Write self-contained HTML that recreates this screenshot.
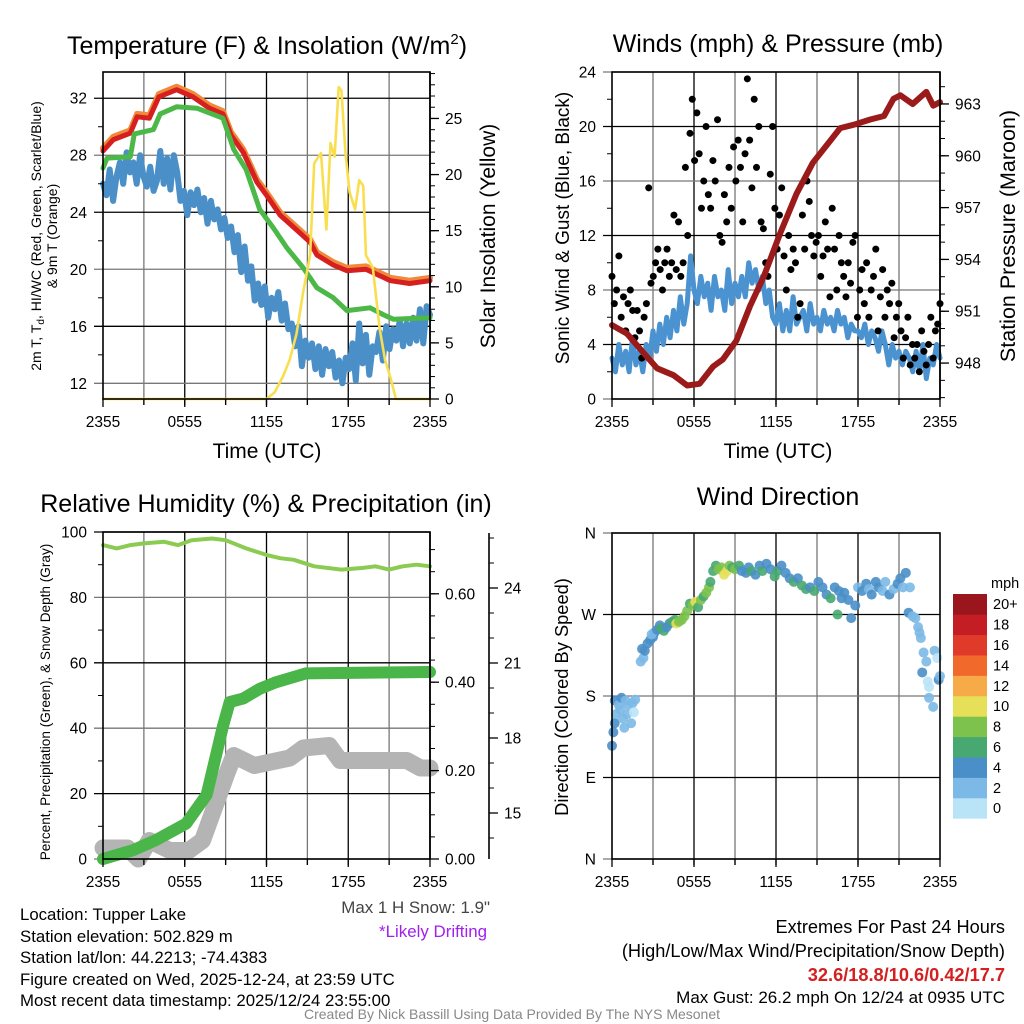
<!DOCTYPE html>
<html><head><meta charset="utf-8"><title>Tupper Lake Mesonet</title>
<style>
html,body{margin:0;padding:0;background:#fff;}
svg{display:block;font-family:"Liberation Sans",Arial,sans-serif;}
</style></head>
<body>
<svg id="fig" width="1024" height="1024" viewBox="0 0 1024 1024" xmlns="http://www.w3.org/2000/svg">
<rect x="0" y="0" width="1024" height="1024" fill="#fff"/>
<g id="layer-grid"></g>
<g id="layer-data"></g>
<g id="layer-axes"></g>

<text x="267" y="54" font-size="25" text-anchor="middle">Temperature (F) &amp; Insolation (W/m<tspan font-size="15" dy="-10">2</tspan><tspan dy="10">)</tspan></text>
<text x="778" y="52" font-size="25" text-anchor="middle">Winds (mph) &amp; Pressure (mb)</text>
<text x="266" y="512" font-size="25" text-anchor="middle">Relative Humidity (%) &amp; Precipitation (in)</text>
<text x="778" y="505" font-size="25" text-anchor="middle">Wind Direction</text>

<text x="267" y="458" font-size="21" text-anchor="middle">Time (UTC)</text>
<text x="778" y="458" font-size="21" text-anchor="middle">Time (UTC)</text>

<text transform="translate(41,236) rotate(-90)" font-size="14" text-anchor="middle">2m T, T<tspan font-size="10" dy="3">d</tspan><tspan dy="-3">, HI/WC (Red, Green, Scarlet/Blue)</tspan></text>
<text transform="translate(57,236) rotate(-90)" font-size="14" text-anchor="middle">&amp; 9m T (Orange)</text>
<text transform="translate(495,236) rotate(-90)" font-size="21" text-anchor="middle">Solar Insolation (Yellow)</text>
<text transform="translate(569,228) rotate(-90)" font-size="19" text-anchor="middle">Sonic Wind &amp; Gust (Blue, Black)</text>
<text transform="translate(1015,236) rotate(-90)" font-size="21.5" text-anchor="middle">Station Pressure (Maroon)</text>
<text transform="translate(50,702) rotate(-90)" font-size="13.6" text-anchor="middle">Percent, Precipitation (Green), &amp; Snow Depth (Gray)</text>
<text transform="translate(568,697) rotate(-90)" font-size="18.3" text-anchor="middle">Direction (Colored By Speed)</text>

<text x="490" y="913" font-size="16.9" fill="#444" text-anchor="end">Max 1 H Snow: 1.9"</text>
<text x="487" y="937" font-size="16.9" fill="#a020f0" text-anchor="end">*Likely Drifting</text>

<g font-size="16.8">
<text x="20" y="920">Location: Tupper Lake</text>
<text x="20" y="942">Station elevation: 502.829 m</text>
<text x="20" y="963">Station lat/lon: 44.2213; -74.4383</text>
<text x="20" y="985">Figure created on Wed, 2025-12-24, at 23:59 UTC</text>
<text x="20" y="1006">Most recent data timestamp: 2025/12/24 23:55:00</text>
</g>
<g font-size="18.2" text-anchor="end">
<text x="1005" y="933">Extremes For Past 24 Hours</text>
<text x="1005" y="957">(High/Low/Max Wind/Precipitation/Snow Depth)</text>
<text x="1005" y="981" fill="#d42020" font-weight="bold">32.6/18.8/10.6/0.42/17.7</text>
<text x="1005" y="1003" font-size="17">Max Gust: 26.2 mph On 12/24 at 0935 UTC</text>
</g>
<text x="512" y="1019" font-size="14" fill="#888" text-anchor="middle">Created By Nick Bassill Using Data Provided By The NYS Mesonet</text>
</svg>

<script>
// ---------- DATA ----------
const xTickLabels = ["2355","0555","1155","1755","2355"];
// Panel 1: temperature (hour, value)
const tempHours = [0,0.76,2.0,2.5,3.4,4.1,5.4,6.6,7.8,8.8,9.4,10.3,11.3,12.0,13.0,14.4,15.2,15.7,16.9,17.9,19.3,21.1,22.5,24];
const tempValues = [28.3,29.1,29.55,30.7,30.6,32.1,32.6,32.1,31.3,30.9,29.4,28.2,26.1,25.2,23.8,22.6,21.9,21.0,20.3,19.9,20.0,19.2,19.0,19.2];
const temp9mValues = [28.5,29.3,29.75,30.9,30.8,32.3,32.8,32.3,31.5,31.1,29.6,28.4,26.3,25.4,24.0,22.8,22.1,21.2,20.5,20.1,20.2,19.4,19.2,19.4];
const hiwcHours = [0,0.3,2.0,2.3,3.7,4.2,5.4,6.9,8.8,9.6,10.5,11.5,12.5,13.5,14.7,15.7,16.9,17.9,19.6,20.6,21.3,24];
const hiwcValues = [27.1,27.8,27.9,29.5,29.8,30.9,31.4,31.3,30.6,28.4,27.0,24.2,22.9,21.5,20.1,18.7,18.0,17.1,17.3,16.8,16.5,16.6];
const dewValues = [26,25.2,27,24.8,26.5,27.5,26,28.2,26.8,
 27.5,26,28,26.5,25.8,27.2,25.5,26.2,
 28.3,26,27.8,25.6,28,26.8,24.8,25.5,
 23.8,25.4,24.5,25.6,24,25,23.2,24.8,
 23.5,24.2,22.8,23.6,22.2,23,21.2,22.4,
 19.8,21.6,19.2,20.2,17.8,19,17.5,18.8,
 16.6,18,17.2,18.4,16.4,17.6,15.8,16.2,
 14.6,16,13.2,15,13.8,14.8,13,14.6,
 12.6,14.4,13.2,14.2,12.4,13.6,12,13.8,
 13,14.8,12.2,16.2,13.4,15.4,12.6,14.6,
 14.2,15.6,13.6,16,14.4,15.8,15,16.4,
 14.6,16.2,14.8,16.6,15,17.2,14.8,17.4,16.8];
const solarHours = [0,11.5,12.0,12.6,13.2,13.7,14.2,14.7,15.2,15.5,16.0,16.4,16.7,17.0,17.3,17.5,17.8,18.1,18.5,18.8,19.1,19.3,19.8,20.3,20.7,21.1,21.5,24];
const solarValues = [0,0,0,0.6,2,3.5,5.8,9.6,12.8,21,21.9,15.1,22.8,21.6,27.8,27.5,21.9,18.4,16.9,19.5,19,12.8,11.7,6.3,3.5,1.9,0,0];
const tempTicks = [12,16,20,24,28,32];
const solarTicks = [0,5,10,15,20,25];

// Panel 2: winds and pressure
const windValues = [3,2,4,2.5,3.5,2,4.5,2.5,
 3.5,2,4,3,5,3.5,5.5,4,
 6,4.5,6.5,5,7.5,5.5,7,10.5,
 8,7,9,7.5,8.5,6.5,9,7.5,
 8,6.5,9.5,7,8.5,7.5,9,7.5,
 10,8.5,9.5,8,9,7,8,6,
 5.5,7,5,6.5,5,7.5,5.5,6,
 6.5,5,7,5.5,6,5,6.5,5.5,
 6,5,6.5,5.5,6,4.5,5.5,5,
 5,4.5,5.5,4,5,4.5,3.5,5,
 4,2.5,4,3,3.5,2.5,3.5,3,
 2,3.5,2,4,1.5,3,2.5,4,3];
const gustValues = [9,7,8,10.5,6,7.5, 5,7,8,6.5,4.5,6.5, 5,3,6,7,15.5,8.5, 9,10,11,9.5,8,10,
 11,9,10,13.5,9.5,13, 9,10,17,12,19.5,22, 17.5,21,18,14,16,20, 15,14,17.5,16,20.5,12,
 11.5,15,13,17,14,18.5, 16,19,17,13,18,23.5, 19,15.5,22,17,20,13, 12.5,10,9,16.5,20,14,
 11,13.5,15.5,10.5,8,12, 9.5,11,10,6,7,13.5, 11,16,14.5,12,10.5,11.5, 12,9,10.5,13,11,7.5,
 14,11,8,12,10,9, 7.5,10,8.5,11.5,12,6, 8,9.5,7,10,6,8, 9,11,5,7.5,9.5,6,
 8,7,8.5,4.5,6,7, 5,3,4.5,6,2.5,4, 3,4,2,5,3.5,2.5, 4,6,3,5,5.5,7];
const pressHours = [0,1.1,2.3,3.3,4.5,5.5,6.4,7.4,8.1,9.1,10.1,11.1,12.3,13.5,14.7,15.7,16.7,17.7,18.9,19.9,20.6,21.1,22.0,23.0,23.5,24];
const pressValues = [950.2,949.7,948.6,947.7,947.3,946.7,946.8,947.8,948.2,949.3,951.3,953.0,955.5,957.8,959.6,960.6,961.6,961.8,962.1,962.3,963.3,963.5,963.0,963.7,962.9,963.1];
const windTicks = [0,4,8,12,16,20,24];
const pressTicks = [948,951,954,957,960,963];

// Panel 3: RH, precip, snow
const rhHours = [0,1,2,3,4.5,5.5,6.5,8,9,10.5,12,13,14,15.5,17.5,19,20,21,22,23,24];
const rhValues = [96,95,96,96.5,97,96,97.5,98,97.5,95,93,92,91.5,89.5,88.5,89,89.5,88.5,89.5,90,89.5];
const precipHours = [0,2.2,3.9,6.1,7.6,8.3,8.8,9.3,10.3,11.5,12.7,14.9,24];
const precipValues = [0.0,0.02,0.043,0.08,0.145,0.235,0.30,0.355,0.363,0.385,0.40,0.42,0.423];
const snowHours = [0,1.8,2.6,3.4,4.9,6.3,7.3,8.3,9.1,9.6,11.1,13.7,14.7,16.6,17.4,22.3,23.3,24];
const snowValues = [13.6,13.6,13.16,13.9,13.5,13.5,13.9,15.4,16.6,17.3,16.9,17.2,17.6,17.7,17.1,17.1,16.8,16.8];
const rhTicks = [0,20,40,60,80,100];
const precipTicks = ["0.00","0.20","0.40","0.60"];
const snowTicks = [15,18,21,24];

// Panel 4: wind direction
const dirHours = [0.0,0.1,0.2,0.2,0.3,0.5,0.6,0.8,0.9,1.1,1.2,1.4,1.5,1.6,1.7,0.7,1.0,
 2.1,2.3,2.2,2.4,2.6,2.8,3.0,3.1,2.9,3.3,3.5,3.6,3.8,4.0,4.2,4.4,4.6,4.7,4.9,5.1,5.3,5.5,5.7,5.9,6.1,6.3,6.5,6.7,6.9,7.1,7.2,7.4,7.6,7.8,8.0,8.2,8.4,8.6,8.8,9.0,9.3,9.5,9.8,10.0,10.2,10.5,10.8,11.0,11.3,11.6,11.9,12.1,12.4,12.7,13.0,13.3,13.6,13.9,14.2,14.5,14.8,15.1,15.4,15.7,16.0,16.3,16.6,16.8,16.5,17.0,17.3,17.5,17.8,18.0,18.3,18.6,18.8,19.0,19.3,
 19.5,19.8,20.0,20.3,20.6,20.9,21.1,21.3,21.5,21.7,21.8,22.0,22.2,22.4,22.5,22.6,22.8,22.7,23.0,23.1,23.2,23.2,23.5,23.6,23.8,23.9,24.0];
const dirDegrees = [125,140,150,175,160,170,165,155,145,160,170,150,172,162,176,178,175,
 218,222,232,230,238,242,245,250,248,253,258,255,252,256,260,262,264,260,262,264,268,274,282,280,284,278,286,290,294,300,306,318,324,320,322,314,318,324,322,320,324,318,316,322,318,314,324,318,326,320,312,318,324,316,310,306,310,302,298,300,296,306,300,292,288,300,296,288,270,294,286,266,280,300,296,304,298,292,306,
 300,296,306,292,298,304,310,300,316,272,300,268,266,256,250,244,228,206,218,196,190,178,168,230,222,198,202];
const dirSpeeds = [4,4,4,4,2,2,2,2,2,2,2,2,2,0,2,4,2,
 2,2,4,4,4,4,4,4,2,4,4,6,6,4,4,6,6,10,8,8,8,8,6,8,10,6,8,6,8,8,6,6,6,8,8,10,10,8,6,8,6,4,4,4,6,4,4,6,4,4,6,6,4,4,4,6,4,6,6,4,6,4,4,4,6,4,4,4,6,4,4,4,4,2,4,4,2,4,4,
 4,2,2,4,2,4,4,2,4,4,2,2,2,2,2,2,2,4,2,0,0,2,2,2,0,4,2];
const dirTicks = ["N","E","S","W","N"];
const speedLabels = ["0","2","4","6","8","10","12","14","16","18","20+"];
const speedColors = ["#b9e3f7","#7cb9e6","#4a8fc8","#48a872","#7cc24c","#e6e058","#f6aa48","#f2692c","#e03a2a","#c41e24","#9a161c"];

// ---------- DRAWING ----------
const NS = "http://www.w3.org/2000/svg";
const gGrid = document.getElementById('layer-grid');
const gData = document.getElementById('layer-data');
const gAxes = document.getElementById('layer-axes');
function mk(tag, attrs, parent){
  const e = document.createElementNS(NS, tag);
  for (const k in attrs) e.setAttribute(k, attrs[k]);
  parent.appendChild(e);
  return e;
}
function linScale(d0,d1,r0,r1){ return v => r0 + (v-d0)*(r1-r0)/(d1-d0); }

const P1 = {x0:103,x1:430,y0:72,y1:399};
const P2 = {x0:612,x1:940,y0:72,y1:399};
const P3 = {x0:103,x1:430,y0:532,y1:859};
const P4 = {x0:612,x1:940,y0:533,y1:859};

function drawFrame(P, name){
  const xs = linScale(0,24,P.x0,P.x1);
  for (let h=3; h<24; h+=3){
    const l = mk('line',{x1:xs(h),x2:xs(h),y1:P.y0,y2:P.y1+6,stroke:(h%6===0?'#000':'#777'),'stroke-width':1.3},gGrid);
    
    
  }
  for (let h=0; h<=24; h+=3){
    const t = mk('line',{x1:xs(h),x2:xs(h),y1:P.y1,y2:P.y1+(h%6===0?8:6),stroke:'#000','stroke-width':1.3},gAxes);
    
    
  }
  xTickLabels.forEach((lab,i)=>{
    const t = mk('text',{x:xs(i*6),y:P.y1+28,'font-size':15.5,'text-anchor':'middle'},gAxes);
    t.textContent = lab;
    
    
  });
  const r = mk('rect',{x:P.x0,y:P.y0,width:P.x1-P.x0,height:P.y1-P.y0,fill:'none',stroke:'#000','stroke-width':1.6},gAxes);
  
  
  return xs;
}
function hGrid(P, ys, ticks, name, labels){
  ticks.forEach((v,i)=>{
    const y = ys(v);
    const l = mk('line',{x1:P.x0-9,x2:P.x1,y1:y,y2:y,stroke:(i%2?'#000':'#777'),'stroke-width':1.3},gGrid);
    
    
    const t = mk('text',{x:P.x0-16,y:y+5.5,'font-size':15.5,'text-anchor':'end'},gAxes);
    t.textContent = labels ? labels[i] : String(v);
    
    
  });
}
function minorLeft(P, ys, vals, name){
  vals.forEach(v=>{
    const l = mk('line',{x1:P.x0-5,x2:P.x0,y1:ys(v),y2:ys(v),stroke:'#000','stroke-width':1},gAxes);
    
    
  });
}
function rightAxis(x, ys, lo, hi, step, major, labels, name, yTop, yBot){
  const ax = mk('line',{x1:x,x2:x,y1:yTop,y2:yBot,stroke:'#000','stroke-width':1.6},gAxes);
  
  
  for (let v=lo; v<=hi+1e-9; v+=step){
    const y = ys(v);
    if (y < yTop-0.5 || y > yBot+0.5) continue;
    const l = mk('line',{x1:x,x2:x+5,y1:y,y2:y,stroke:'#000','stroke-width':1},gAxes);
    
    
  }
  major.forEach((v,i)=>{
    const y = ys(v);
    const l = mk('line',{x1:x,x2:x+9,y1:y,y2:y,stroke:'#000','stroke-width':1.3},gAxes);
    
    
    const t = mk('text',{x:x+15,y:y+5.5,'font-size':15.5},gAxes);
    t.textContent = labels[i];
    
    
  });
}
function pathFrom(xsArr, ysArr){
  let d = '';
  for (let i=0;i<xsArr.length;i++) d += (i?'L':'M') + xsArr[i].toFixed(1) + ',' + ysArr[i].toFixed(1);
  return d;
}
function line(d, color, w, name){
  const p = mk('path',{d:d,fill:'none',stroke:color,'stroke-width':w,'stroke-linejoin':'round','stroke-linecap':'round'},gData);
  
  
  return p;
}
function evenHours(n){ const a=[]; for(let i=0;i<n;i++) a.push(i*24/(n-1)); return a; }

// ---- Panel 1 ----
const x1s = drawFrame(P1,'temp');
const yT = linScale(10.9,33.84,P1.y1,P1.y0);
const yS = linScale(0,29.14,P1.y1,P1.y0);
hGrid(P1,yT,tempTicks,'temp');
minorLeft(P1,yT,[14,18,22,26,30],'temp');
rightAxis(P1.x1,yS,0,29,1,solarTicks,solarTicks.map(String),'solar',P1.y0,P1.y1);
line(pathFrom(evenHours(dewValues.length).map(x1s),dewValues.map(yT)),'#4a8fc8',6,'dewpoint-line');
line(pathFrom(tempHours.map(x1s),temp9mValues.map(yT)),'#f08a3a',6,'temp-9m-line');
line(pathFrom(tempHours.map(x1s),tempValues.map(yT)),'#d62020',5,'temperature-line');
line(pathFrom(hiwcHours.map(x1s),hiwcValues.map(yT)),'#4cb848',5,'heat-index-wind-chill-line');
line(pathFrom(solarHours.map(x1s),solarValues.map(yS)),'#f9df4f',2.6,'solar-insolation-line');

// ---- Panel 2 ----
const x2s = drawFrame(P2,'winds');
const yW = linScale(0,24,P2.y1,P2.y0);
const yP = linScale(945.92,964.85,P2.y1,P2.y0);
hGrid(P2,yW,windTicks,'winds');
minorLeft(P2,yW,[2,6,10,14,18,22],'winds');
rightAxis(P2.x1,yP,946,964,1,pressTicks,pressTicks.map(String),'pressure',P2.y0,P2.y1);
line(pathFrom(evenHours(windValues.length).map(x2s),windValues.map(yW)),'#4a93d0',5,'sonic-wind-line');
const gh = evenHours(gustValues.length);
gustValues.forEach((v,i)=>{
  const c = mk('circle',{cx:x2s(gh[i]),cy:yW(v),r:3.5,fill:'#000'},gData);
  
  
});
line(pathFrom(pressHours.map(x2s),pressValues.map(yP)),'#9b1b1b',6,'pressure-line');

// ---- Panel 3 ----
const x3s = drawFrame(P3,'rh');
const yR = linScale(0,100,P3.y1,P3.y0);
const yPr = linScale(0,0.7398,P3.y1,P3.y0);
const ySn = linScale(15,24,813,588);
hGrid(P3,yR,rhTicks,'rh');
minorLeft(P3,yR,[10,30,50,70,90],'rh');
rightAxis(P3.x1,yPr,0,0.7,0.05,precipTicks.map(Number),precipTicks,'precip',P3.y0,P3.y1);
rightAxis(489,ySn,14,26,1,snowTicks,snowTicks.map(String),'snow',533,859);
line(pathFrom(snowHours.map(x3s),snowValues.map(ySn)),'#b4b4b4',17,'snow-depth-line');
line(pathFrom(precipHours.map(x3s),precipValues.map(yPr)),'#4ab548',12,'precipitation-line');
line(pathFrom(rhHours.map(x3s),rhValues.map(yR)),'#8ccb52',4,'relative-humidity-line');

// ---- Panel 4 ----
const x4s = drawFrame(P4,'direction');
const yD = linScale(0,360,P4.y1,P4.y0);
hGrid(P4,yD,[0,90,180,270,360],'direction',dirTicks);
dirHours.forEach((h,i)=>{
  const c = mk('circle',{cx:x4s(h),cy:yD(dirDegrees[i]),r:5,fill:speedColors[dirSpeeds[i]/2],'fill-opacity':0.9},gData);
  
  
});
// colorbar
const cbTop = 594, cbH = 20.4;
speedLabels.forEach((lab,i)=>{
  const j = speedLabels.length-1-i;
  const r = mk('rect',{x:953,y:cbTop+j*cbH,width:34,height:cbH+0.3,fill:speedColors[i]},gAxes);
  
  
  const t = mk('text',{x:993,y:cbTop+j*cbH+cbH/2+5,'font-size':14.5},gAxes);
  t.textContent = lab;
  
  
});
const cbt = mk('text',{x:991,y:588,'font-size':14.5},gAxes);
cbt.textContent = 'mph';


</script>
</body></html>
